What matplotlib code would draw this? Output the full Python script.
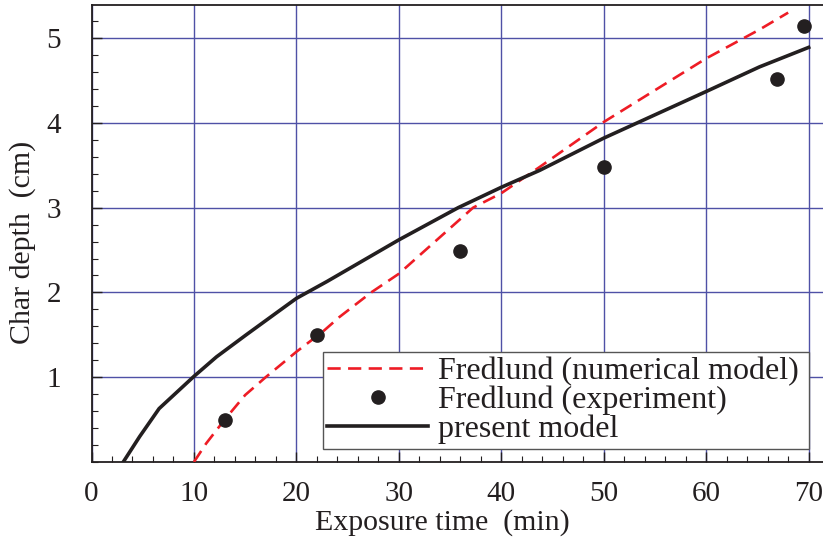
import matplotlib
matplotlib.use("Agg")
import matplotlib.pyplot as plt
from matplotlib.ticker import MultipleLocator

# Data
model_t = [3.1, 4.7, 6.6, 10.0, 12.2, 15.1, 18.4, 20.0, 23.0, 30.0, 35.8, 40.0, 43.75, 50.0, 60.0, 65.2, 70.0]
model_d = [0.0, 0.30, 0.63, 1.01, 1.24, 1.50, 1.79, 1.93, 2.13, 2.62, 3.00, 3.24, 3.44, 3.82, 4.37, 4.66, 4.89]

num_t = [10.0, 11.2, 13.0, 15.0, 17.0, 20.0, 22.6, 24.2, 27.3, 30.0, 37.25, 40.0, 43.75, 50.0, 60.0, 65.2, 68.0]
num_d = [0.0, 0.22, 0.50, 0.79, 1.00, 1.30, 1.54, 1.71, 2.00, 2.22, 3.00, 3.17, 3.48, 4.01, 4.76, 5.10, 5.30]

exp_t = [13.0, 22.0, 36.0, 50.0, 66.9, 69.5]
exp_d = [0.50, 1.50, 2.49, 3.48, 4.52, 5.14]

x_ticks = [0, 10, 20, 30, 40, 50, 60, 70]
y_ticks = [1, 2, 3, 4, 5]

plt.rcParams['font.family'] = ['Liberation Serif', 'DejaVu Serif']

fig = plt.figure(figsize=(8.23, 5.42), dpi=100)
ax = fig.add_axes([91.5/823, 80/542, 1 - 91.5/823, 457/542])

grid_color = '#4f51a6'
ax.set_xlim(0, 71.4)
ax.set_ylim(0, 5.39)
ax.set_xticks(x_ticks)
ax.set_yticks(y_ticks)
ax.xaxis.set_minor_locator(MultipleLocator(2))
ax.yaxis.set_minor_locator(MultipleLocator(0.2))
ax.grid(True, which='major', color=grid_color, linewidth=1.0)
ax.set_axisbelow(True)

ax.tick_params(which='both', direction='in', top=False, right=False, labelsize=21, colors='#231f20')
ax.tick_params(which='major', length=7, width=1.0)
ax.tick_params(which='minor', length=4, width=0.8)
ax.tick_params(axis='x', which='major', pad=14)
ax.tick_params(axis='y', which='major', pad=22)

for s in ['top', 'bottom', 'left']:
    ax.spines[s].set_color('#231f20')
    ax.spines[s].set_linewidth(1.3)
ax.spines['right'].set_visible(False)

ax.plot(num_t, num_d, color='#ee1c25', linewidth=1.9, dashes=(5, 2.8),
        label='Fredlund (numerical model)', zorder=3)
ax.plot(exp_t, exp_d, 'o', color='#231f20', markersize=9.5, linestyle='none',
        label='Fredlund (experiment)', zorder=4)
ax.plot(model_t, model_d, color='#231f20', linewidth=2.6,
        label='present model', zorder=3)

leg = ax.legend(loc='lower left', bbox_to_anchor=(0.316, 0.028, 0.665, 0.21), mode='expand',
                fontsize=23, frameon=True, fancybox=False, framealpha=1, edgecolor='#555555',
                handlelength=3.15, handletextpad=0.3, labelspacing=-0.01, borderpad=0.15,
                borderaxespad=0, markerscale=1.0)
leg.get_frame().set_linewidth(1.0)
for t in leg.get_texts():
    t.set_color('#231f20')

ax.set_xlabel('Exposure time  (min)', fontsize=21.5, color='#231f20')
ax.set_ylabel('Char depth  (cm)', fontsize=21.5, color='#231f20')
ax.xaxis.set_label_coords(0.479, -0.102)
ax.yaxis.set_label_coords(-0.076, 0.48)

fig.savefig('out.png', dpi=100)
